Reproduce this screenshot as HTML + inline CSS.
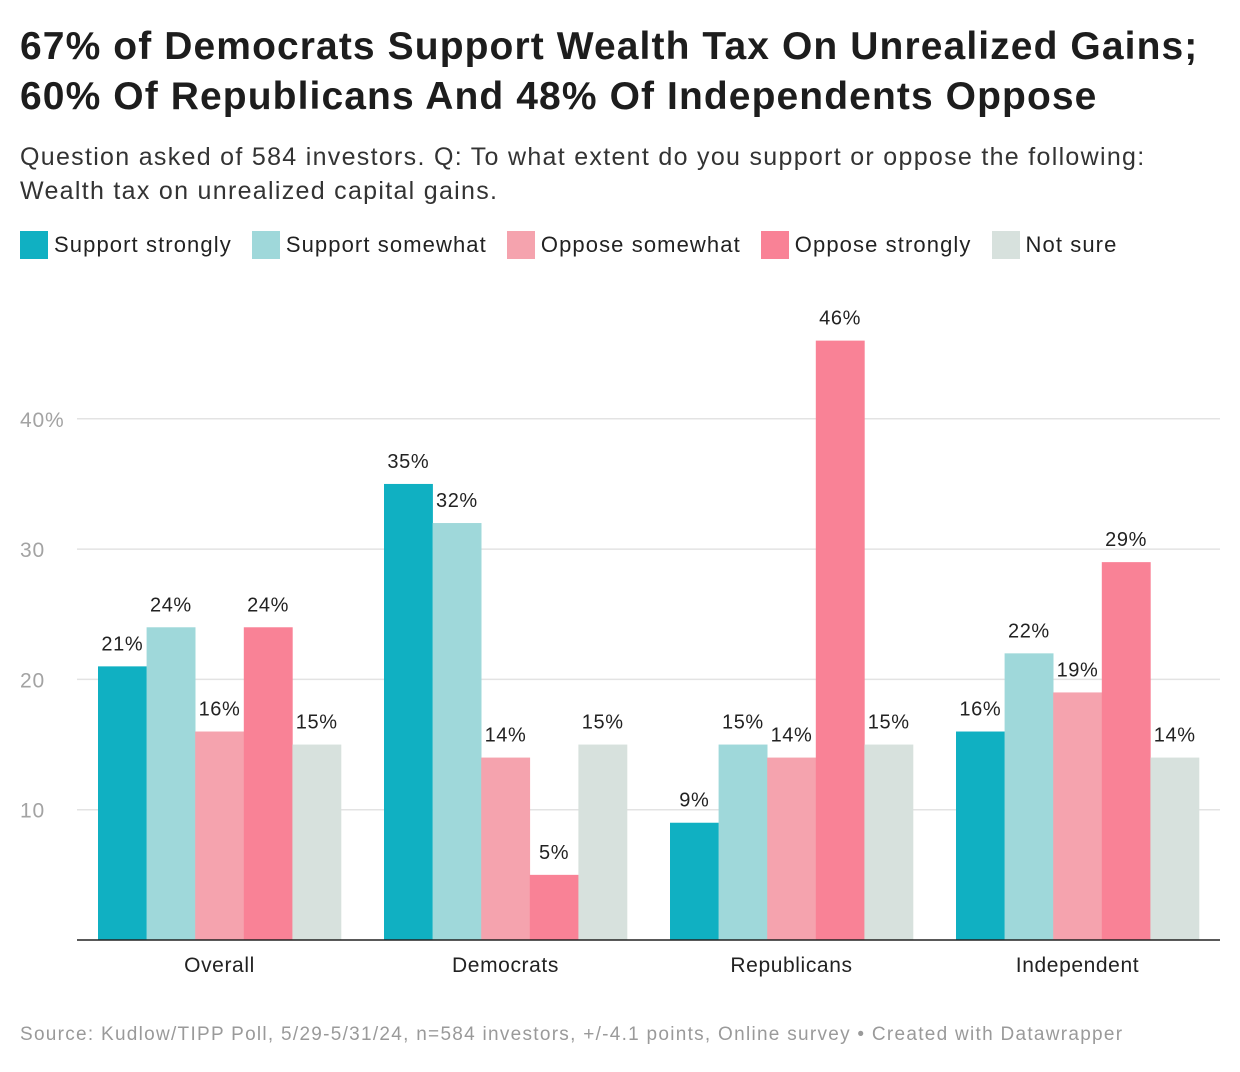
<!DOCTYPE html>
<html><head><meta charset="utf-8"><style>
body{margin:0;width:1240px;height:1072px;background:#fff;font-family:"Liberation Sans",sans-serif;position:relative;overflow:hidden;color:#1d1d1d}
.t{position:absolute;left:20px;top:22px;font-size:39px;font-weight:bold;line-height:50px;letter-spacing:1.1px;white-space:nowrap}
.s{position:absolute;left:20px;top:140px;font-size:25px;line-height:34px;color:#333;letter-spacing:1.3px;white-space:nowrap}
.lg{position:absolute;top:230px;left:20px;display:flex;font-size:22px;line-height:30px;color:#222;letter-spacing:1.1px;white-space:nowrap}
.li{display:flex;align-items:center;margin-right:20px}
.sw{width:28px;height:28px;margin-right:6px}
.f{position:absolute;left:20px;top:1024px;font-size:19px;color:#9a9a9a;letter-spacing:1.28px;white-space:nowrap}
</style></head><body>
<div class="t">67% of Democrats Support Wealth Tax On Unrealized Gains;<br>60% Of Republicans And 48% Of Independents Oppose</div>
<div class="s">Question asked of 584 investors. Q: To what extent do you support or oppose the following:<br>Wealth tax on unrealized capital gains.</div>
<div class="lg" id="lg"></div>
<svg id="c" width="1240" height="1072" style="position:absolute;left:0;top:0"></svg>
<div class="f">Source: Kudlow/TIPP Poll, 5/29-5/31/24, n=584 investors, +/-4.1 points, Online survey • Created with Datawrapper</div>
<script>
const categories=["Overall","Democrats","Republicans","Independent"];
const seriesNames=["Support strongly","Support somewhat","Oppose somewhat","Oppose strongly","Not sure"];
const supportStrongly=[21,35,9,16];
const supportSomewhat=[24,32,15,22];
const opposeSomewhat=[16,14,14,19];
const opposeStrongly=[24,5,46,29];
const notSure=[15,15,15,14];
const yTicks=[10,20,30,40];
const colors=["#10b0c2","#9fd8da","#f5a3ae","#f98296","#d7e1dd"];
const series=[supportStrongly,supportSomewhat,opposeSomewhat,opposeStrongly,notSure];
const NS="http://www.w3.org/2000/svg";
const svg=document.getElementById('c');
const y=v=>940-v*13.03;
const gx=i=>98+i*286;
const bw=48.6;
function mk(t,a,txt){const e=document.createElementNS(NS,t);for(const k in a)e.setAttribute(k,a[k]);if(txt!=null)e.textContent=txt;svg.appendChild(e);return e;}
yTicks.forEach(v=>{
 const l=mk('line',{x1:77,x2:1220,y1:y(v),y2:y(v),stroke:'#e3e3e3','stroke-width':1.5});
 
 
 const t=mk('text',{x:20,y:y(v)+8,'font-size':21,fill:'#a3a3a3','font-family':'Liberation Sans','letter-spacing':0.8},v===40?v+'%':String(v));
 
 
});
categories.forEach((c,i)=>{
 series.forEach((s,j)=>{
  const x=gx(i)+j*bw;
  const r=mk('rect',{x:x,y:y(s[i]),width:bw+0.3,height:940-y(s[i]),fill:colors[j]});
  
  
  const t=mk('text',{x:x+bw/2,y:y(s[i])-16,'font-size':20,'text-anchor':'middle',fill:'#222','font-family':'Liberation Sans','letter-spacing':0.6},s[i]+'%');
  
  
 });
 const t=mk('text',{x:gx(i)+bw*2.5,y:972,'font-size':21,'text-anchor':'middle',fill:'#222','font-family':'Liberation Sans','letter-spacing':0.6},c);
 
 
});
const ax=mk('line',{x1:77,x2:1220,y1:940,y2:940,stroke:'#222','stroke-width':1.5});


const lg=document.getElementById('lg');
seriesNames.forEach((n,j)=>{
 const d=document.createElement('div');d.className='li';
 
 
 d.innerHTML='<div class="sw" style="background:'+colors[j]+'"></div>'+n;
 lg.appendChild(d);
});
</script>
</body></html>
